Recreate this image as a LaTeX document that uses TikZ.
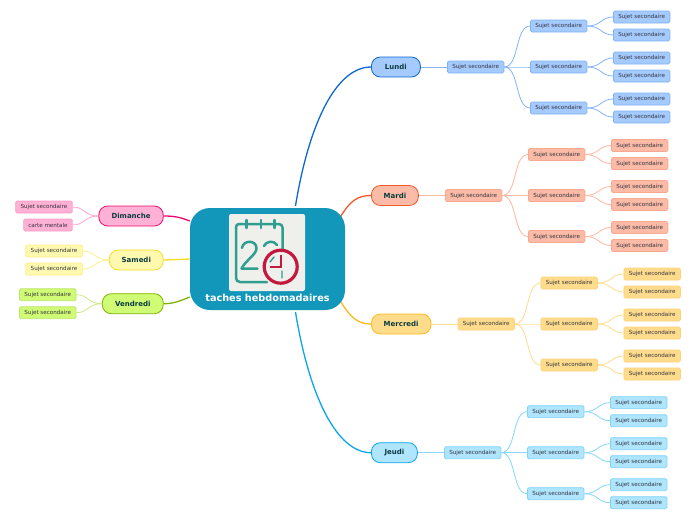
\documentclass[tikz,border=0pt]{standalone}
\usepackage{fontspec}
\setmainfont{DejaVu Sans}
\usetikzlibrary{positioning,backgrounds}
\definecolor{BlueFill}{HTML}{A5CAFD}
\definecolor{BlueLine}{HTML}{1066D2}
\definecolor{BlueEdge}{HTML}{7FB2F7}
\definecolor{BlueTwig}{HTML}{86B6F8}
\definecolor{RedFill}{HTML}{FBBBA6}
\definecolor{RedLine}{HTML}{F2592A}
\definecolor{RedEdge}{HTML}{F9A88F}
\definecolor{RedTwig}{HTML}{FDB8A2}
\definecolor{GoldFill}{HTML}{FFDC8C}
\definecolor{GoldLine}{HTML}{FFB81C}
\definecolor{GoldEdge}{HTML}{FFD27A}
\definecolor{GoldTwig}{HTML}{FFDC90}
\definecolor{SkyFill}{HTML}{AFE5FD}
\definecolor{SkyLine}{HTML}{0AA5EC}
\definecolor{SkyEdge}{HTML}{7FD3FA}
\definecolor{SkyTwig}{HTML}{8AD8FB}
\definecolor{PinkFill}{HTML}{FFB1D5}
\definecolor{PinkLine}{HTML}{F0066F}
\definecolor{PinkEdge}{HTML}{FF9CC8}
\definecolor{PinkTwig}{HTML}{FFA8CC}
\definecolor{LemonFill}{HTML}{FFF9B0}
\definecolor{LemonLine}{HTML}{F5DC20}
\definecolor{LemonEdge}{HTML}{FBEF80}
\definecolor{LemonTwig}{HTML}{FBF090}
\definecolor{LimeFill}{HTML}{D0FB74}
\definecolor{LimeLine}{HTML}{7DB300}
\definecolor{LimeEdge}{HTML}{BDE670}
\definecolor{LimeTwig}{HTML}{CFE88A}
\definecolor{Lagoon}{HTML}{1296BA}
\definecolor{Paper}{HTML}{EFEFEC}
\definecolor{Jade}{HTML}{2F9E8F}
\definecolor{Crimson}{HTML}{C4193F}
\definecolor{Ink}{HTML}{0B3B3F}
\definecolor{Slate}{HTML}{33333F}

\begin{document}
\begin{tikzpicture}[
  x=1pt,y=-1pt,
  root/.style={rounded corners=20pt,fill=Lagoon,minimum width=155pt,minimum height=102pt},
  tile/.style={rounded corners=2pt,fill=Paper,minimum width=76pt,minimum height=77pt},
  title/.style={font=\fontsize{9.7}{11}\selectfont\bfseries,text=white,inner sep=0pt},
  topic/.style={rounded corners=9pt,fill=#1Fill,draw=#1Line,line width=.8pt,minimum height=20pt,inner sep=0pt,text=Ink,font=\fontsize{7}{8}\selectfont\bfseries},
  sujet/.style={rounded corners=1.5pt,fill=#1Fill,draw=#1Edge,line width=.8pt,minimum height=12pt,minimum width=56.5pt,inner sep=0pt,text=Slate,font=\fontsize{5.6}{7}\selectfont},
  bough/.style={draw=#1Line,line width=1.3pt},
  twig/.style={draw=#1Twig,line width=.85pt},
  leaf/.style={line width=2.5pt,draw=Jade,line cap=round,line join=round},
  alarm/.style={line width=3.2pt,draw=Crimson}
]
\useasboundingbox (0,0) rectangle (696,520);
\node[root] (root) at (267.5,259) {};
\node[tile] (tile) at (267,252.5) {};
\node[title] (title) at (267.5,298) {taches hebdomadaires};

% calendar icon
\draw[leaf] (267,282) -- (240,282) arc (90:180:4) -- (236,227) arc (180:270:3) -- (279,224) arc (-90:0:3.5) -- (282.5,250);
\draw[leaf] (246.7,220) -- (246.7,228) (261,220) -- (261,228) (274.3,220) -- (274.3,228);
\draw[leaf] (242,248) .. controls (243,240) and (256,239.5) .. (256.5,248) .. controls (257,254) and (246,260) .. (241.5,268.5) -- (257.5,268.5);
\draw[leaf] (264,246) .. controls (266,241) and (274,240) .. (277,245);
\draw[alarm,fill=Paper] (280.7,266.7) circle (16.5);
\draw[leaf,line width=1.4pt] (282,271) -- (282,278) (270,262) -- (274,257);
\draw[draw=Crimson,line width=2pt] (280.7,255) -- (280.7,266.7) -- (270,266.7);

% right side
\foreach \wk/\txt/\boxw/\yy/\hue in {lundi/Lundi/49/67/Blue,mardi/Mardi/47/195.5/Red,mercredi/Mercredi/59.5/324/Gold,jeudi/Jeudi/46/452.7/Sky} {
  \node[topic=\hue,minimum width=\boxw pt,anchor=west] (\wk) at (371,\yy) {\txt};
  \node[sujet=\hue,right=26.2pt of \wk] (\wk-s) {Sujet secondaire};
  \begin{scope}[on background layer]
    \draw[twig=\hue] (\wk) -- (\wk-s);
  \end{scope}
  \foreach \i/\dy in {a/41,b/0,c/-41} {
    \node[sujet=\hue,right=25.7pt of \wk-s,yshift=\dy pt] (\wk-\i) {Sujet secondaire};
    \draw[twig=\hue] (\wk-s.east) .. controls +(15,0) and +(-15,0) .. (\wk-\i.west);
    \foreach \j/\ey in {1/9,2/-9} {
      \node[sujet=\hue,right=25.7pt of \wk-\i,yshift=\ey pt] (\wk-\i\j) {Sujet secondaire};
      \draw[twig=\hue] (\wk-\i.east) .. controls +(14,0) and +(-12,0) .. (\wk-\i\j.west);
    }
  }
}

% left side
\foreach \wk/\txt/\boxw/\yy/\hue in {dimanche/Dimanche/64.5/216/Pink,samedi/Samedi/54/260/Lemon,vendredi/Vendredi/61/303.7/Lime} {
  \node[topic=\hue,minimum width=\boxw pt,anchor=east] (\wk) at (163.7,\yy) {\txt};
}
\node[sujet=Pink,left=25.8pt of dimanche,yshift=9pt] (dimanche-1) {Sujet secondaire};
\node[sujet=Pink,minimum width=48.5pt,left=25.8pt of dimanche,yshift=-9pt] (dimanche-2) {carte mentale};
\node[sujet=Lemon,left=26.2pt of samedi,yshift=9pt] (samedi-1) {Sujet secondaire};
\node[sujet=Lemon,left=26.2pt of samedi,yshift=-9pt] (samedi-2) {Sujet secondaire};
\node[sujet=Lime,left=25.5pt of vendredi,yshift=9pt] (vendredi-1) {Sujet secondaire};
\node[sujet=Lime,left=25.5pt of vendredi,yshift=-9pt] (vendredi-2) {Sujet secondaire};
\draw[twig=Pink] (dimanche.west) .. controls +(-14,0) and +(12,0) .. (dimanche-1.east);
\draw[twig=Pink] (dimanche.west) .. controls +(-14,0) and +(12,0) .. (dimanche-2.east);
\draw[twig=Lemon] (samedi.west) .. controls +(-14,0) and +(12,0) .. (samedi-1.east);
\draw[twig=Lemon] (samedi.west) .. controls +(-14,0) and +(12,0) .. (samedi-2.east);
\draw[twig=Lime] (vendredi.west) .. controls +(-14,0) and +(12,0) .. (vendredi-1.east);
\draw[twig=Lime] (vendredi.west) .. controls +(-14,0) and +(12,0) .. (vendredi-2.east);

% main branches
\begin{scope}[on background layer]
\draw[bough=Blue] ([xshift=28pt,yshift=2pt]root.north) .. controls +(14,-85) and +(-34,0) .. (lundi.west);
\draw[bough=Red] ([xshift=-6pt,yshift=40pt]root.east) .. controls +(11,-19) and +(-13,0) .. (mardi.west);
\draw[bough=Gold] ([xshift=-6pt,yshift=-40pt]root.east) .. controls +(11,19) and +(-13,0) .. (mercredi.west);
\draw[bough=Sky] ([xshift=28pt,yshift=-2pt]root.south) .. controls +(14,85) and +(-34,0) .. (jeudi.west);
\draw[bough=Pink] ([yshift=38pt]root.west) .. controls +(-10,-4) and +(10,0) .. (dimanche.east);
\draw[bough=Lemon] (root.west) -- (samedi.east);
\draw[bough=Lime] ([yshift=-38pt]root.west) .. controls +(-10,4) and +(10,0) .. (vendredi.east);
\end{scope}
\end{tikzpicture}
\end{document}
